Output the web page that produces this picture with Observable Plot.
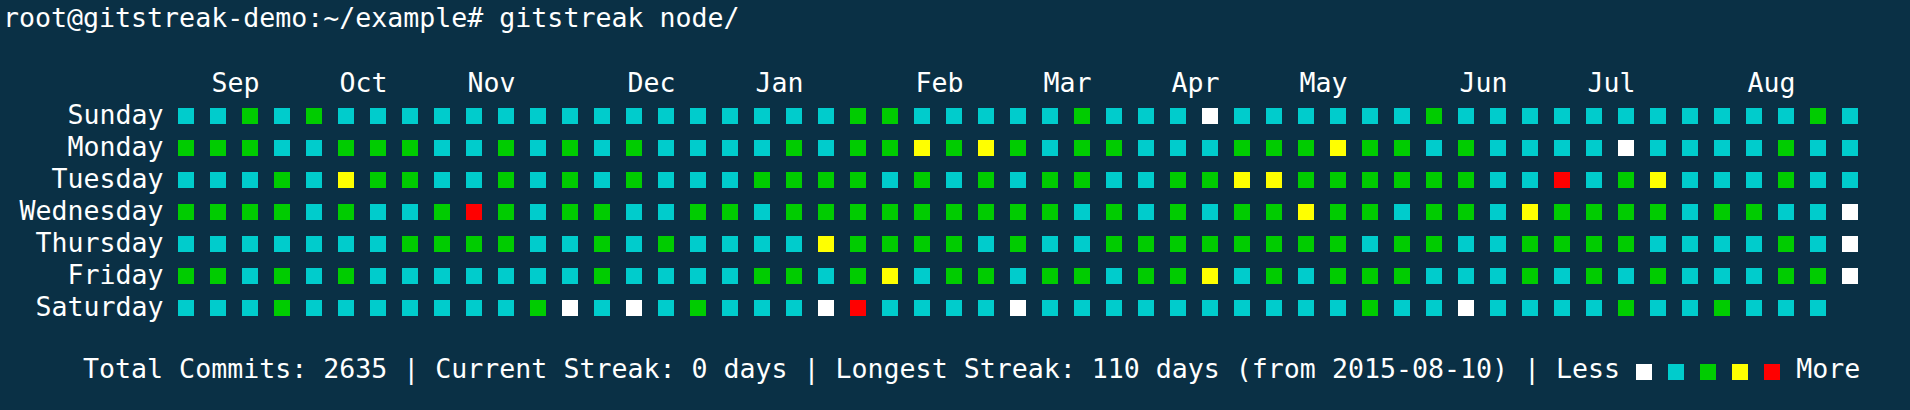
<!DOCTYPE html>
<html>
<head>
<meta charset="utf-8">
<script src="https://cdn.jsdelivr.net/npm/d3@7"></script>
<script src="https://cdn.jsdelivr.net/npm/@observablehq/plot@0.6"></script>
<style>
  html, body { margin: 0; padding: 0; width: 1910px; height: 410px; overflow: hidden;
    background: #0a3045; color: #ffffff; font-family: "DejaVu Sans Mono", monospace; font-size: 26.6px; }
  .line { position: absolute; left: 0; height: 32px; line-height: 32px; white-space: pre; padding-left: 3px; }
  #chart { position: absolute; left: 0; top: 32px; }
  .sq { display: inline-block; width: 16px; height: 16px; vertical-align: -2px; }
</style>
</head>
<body>
<div id="title" class="line" style="top:2px"></div>
<div id="chart"></div>
<div id="footer" class="line" style="top:353px"></div>
<script>
const prompt = "root@gitstreak-demo:~/example# gitstreak node/";
const days = ["Sunday", "Monday", "Tuesday", "Wednesday", "Thursday", "Friday", "Saturday"];
const monthLabels = ["Sep", "Oct", "Nov", "Dec", "Jan", "Feb", "Mar", "Apr", "May", "Jun", "Jul", "Aug"];
const monthCols = [1, 5, 9, 14, 18, 23, 27, 31, 35, 40, 44, 49];
const levelColors = ["#ffffff", "#00cccc", "#00cc00", "#ffff00", "#ff0000"];

// activity level per week column (0 = least ... 4 = most)
const sunday    = [1,1,2,1,2,1,1,1,1,1, 1,1,1,1,1,1,1,1,1,1,1,2,2,1, 1,1,1,1,2,1,1,1,0,1,1,1,1,1,1, 2,1,1,1,1,1,1,1,1,1,1,1,2,1];
const monday    = [2,2,2,1,1,2,2,2,1,1, 2,1,2,1,2,1,1,1,1,2,1,2,2,3, 2,3,2,1,2,2,1,1,1,2,2,2,3,2,2, 1,2,1,1,1,1,0,1,1,1,1,2,1,1];
const tuesday   = [1,1,1,2,1,3,2,2,1,1, 2,1,2,1,2,1,1,1,2,2,2,2,1,2, 1,2,1,2,2,1,1,2,2,3,3,2,2,2,2, 2,2,1,1,4,1,2,3,1,1,1,2,1,1];
const wednesday = [2,2,2,2,1,2,1,1,2,4, 2,1,2,2,1,1,2,2,1,2,2,2,2,2, 2,2,2,2,1,2,1,2,1,2,2,3,2,2,1, 2,2,1,3,2,2,2,2,1,2,2,1,1,0];
const thursday  = [1,1,1,1,1,1,1,2,2,2, 2,1,1,2,1,2,1,1,1,1,3,2,2,2, 2,1,2,1,1,2,2,2,2,2,2,2,2,1,2, 2,1,1,2,2,2,2,1,1,1,1,2,1,0];
const friday    = [2,2,1,2,1,2,1,1,1,1, 1,1,1,2,1,1,1,1,2,2,1,2,3,1, 2,2,1,2,2,1,2,2,3,1,2,1,2,2,2, 1,1,1,2,1,2,1,2,1,1,1,2,2,0];
const saturday  = [1,1,1,2,1,1,1,1,1,1, 1,2,0,1,0,1,2,1,1,1,0,4,1,1, 1,1,0,1,1,1,1,1,1,1,1,1,1,2,1, 1,0,1,1,1,1,2,1,1,2,1,1,1];

const totalCommits = 2635;
const currentStreak = 0;
const longestStreak = 110;
const longestFrom = "2015-08-10";

const rows = [sunday, monday, tuesday, wednesday, thursday, friday, saturday];
const cells = [];
rows.forEach((row, d) => row.forEach((level, w) => cells.push({week: w, day: days[d], level})));
const nWeeks = d3.max(rows, r => r.length);

document.getElementById("title").textContent = prompt;

const chart = Plot.plot({
  width: 1910,
  height: 320,
  marginLeft: 178,
  marginRight: 52,
  marginTop: 76,
  marginBottom: 36,
  style: {background: "transparent", color: "#ffffff", fontFamily: "DejaVu Sans Mono", fontSize: "26.6px"},
  x: {type: "band", domain: d3.range(nWeeks), paddingInner: 0.5, paddingOuter: 0, label: null},
  y: {type: "band", domain: days, paddingInner: 0.5, paddingOuter: 0, label: null},
  color: {type: "ordinal", domain: [0, 1, 2, 3, 4], range: levelColors},
  marks: [
    Plot.axisY({tickSize: 0, tickPadding: 15, fontSize: 26.6, dy: -1.5, label: null}),
    Plot.axisX({anchor: "top", ticks: monthCols, tickFormat: c => monthLabels[monthCols.indexOf(c)],
      tickSize: 0, tickPadding: 17, textAnchor: "start", dx: -7, fontSize: 26.6, label: null}),
    Plot.cell(cells, {x: "week", y: "day", fill: "level", inset: 0})
  ]
});
document.getElementById("chart").appendChild(chart);

const footer = document.getElementById("footer");
footer.append(`     Total Commits: ${totalCommits} | Current Streak: ${currentStreak} days | Longest Streak: ${longestStreak} days (from ${longestFrom}) | Less `);
levelColors.forEach(c => {
  const s = document.createElement("span");
  s.className = "sq";
  s.style.background = c;
  footer.append(s, " ");
});
footer.append("More");
</script>
</body>
</html>
